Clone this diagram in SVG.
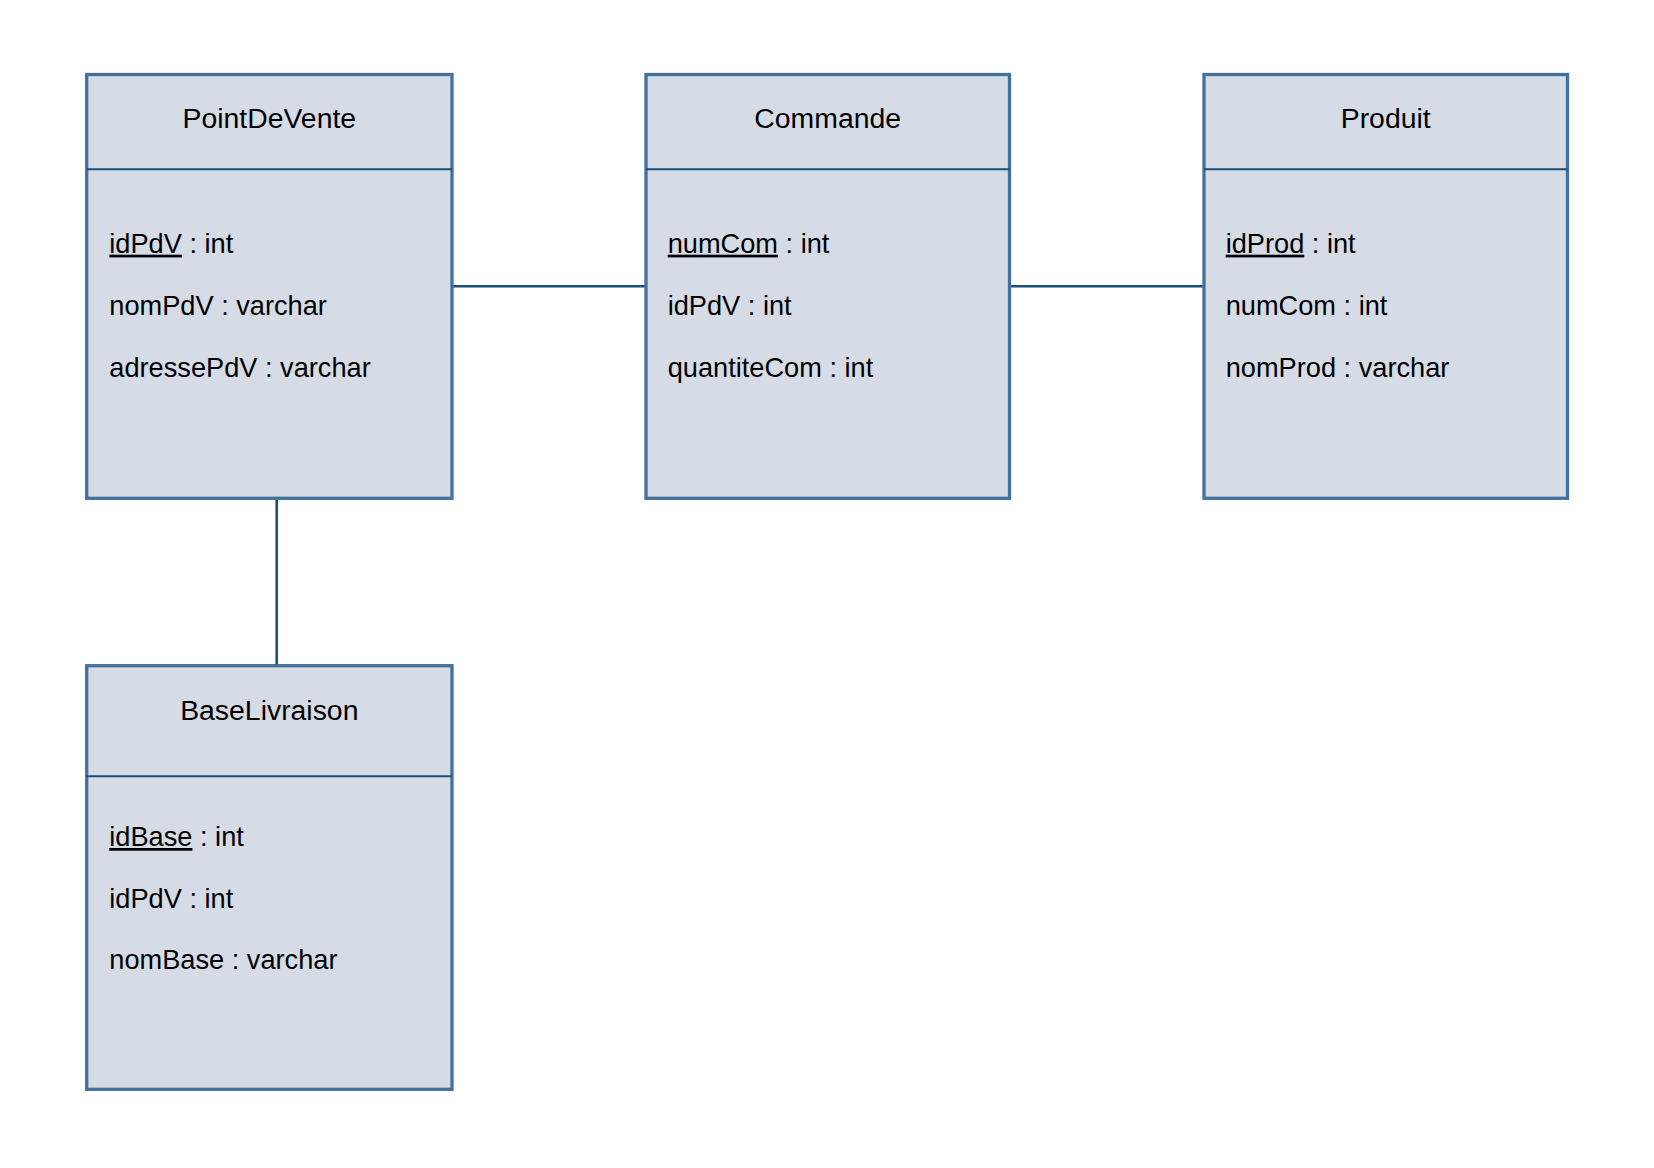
<svg xmlns="http://www.w3.org/2000/svg" width="1654" height="1168" viewBox="0 0 1654 1168">
<style>
.box{fill:#d6dce5;stroke:#41719c;stroke-width:3.3}
.div{stroke:#1f4e79;stroke-width:2}
.conn{stroke:#1f4e79;stroke-width:2.6;fill:none}
text{font-family:"Liberation Sans",Arial,sans-serif;font-size:27.2px;fill:#000}
.title{text-anchor:middle;font-size:28.4px}
.pk{text-decoration:underline}
</style>
<rect width="1654" height="1168" fill="#fff"/>
<g id="connectors">
<line class="conn" x1="452" y1="286.3" x2="646" y2="286.3"/>
<line class="conn" x1="1009.5" y1="286.3" x2="1204" y2="286.3"/>
<line class="conn" x1="276.7" y1="498.3" x2="276.7" y2="665.7"/>
</g>
<g id="PointDeVente">
<rect class="box" x="86.7" y="74.5" width="365.3" height="423.8"/>
<line class="div" x1="86.7" y1="169.3" x2="452" y2="169.3"/>
<text class="title" x="269.3" y="128.3">PointDeVente</text>
<text x="109.3" y="252.7"><tspan class="pk">idPdV</tspan> : int</text>
<text x="109.3" y="315">nomPdV : varchar</text>
<text x="109.3" y="376.7">adressePdV : varchar</text>
</g>
<g id="Commande">
<rect class="box" x="646" y="74.5" width="363.5" height="423.8"/>
<line class="div" x1="646" y1="169.3" x2="1009.5" y2="169.3"/>
<text class="title" x="827.7" y="128.3">Commande</text>
<text x="667.7" y="252.7"><tspan class="pk">numCom</tspan> : int</text>
<text x="667.7" y="315">idPdV : int</text>
<text x="667.7" y="376.7">quantiteCom : int</text>
</g>
<g id="Produit">
<rect class="box" x="1204" y="74.5" width="363.5" height="423.8"/>
<line class="div" x1="1204" y1="169.3" x2="1567.5" y2="169.3"/>
<text class="title" x="1385.7" y="128.3">Produit</text>
<text x="1225.7" y="252.7"><tspan class="pk">idProd</tspan> : int</text>
<text x="1225.7" y="315">numCom : int</text>
<text x="1225.7" y="376.7">nomProd : varchar</text>
</g>
<g id="BaseLivraison">
<rect class="box" x="86.7" y="665.7" width="365.3" height="423.6"/>
<line class="div" x1="86.7" y1="776.3" x2="452" y2="776.3"/>
<text class="title" x="269.3" y="720">BaseLivraison</text>
<text x="109.3" y="846"><tspan class="pk">idBase</tspan> : int</text>
<text x="109.3" y="907.7">idPdV : int</text>
<text x="109.3" y="969.3">nomBase : varchar</text>
</g>
</svg>
